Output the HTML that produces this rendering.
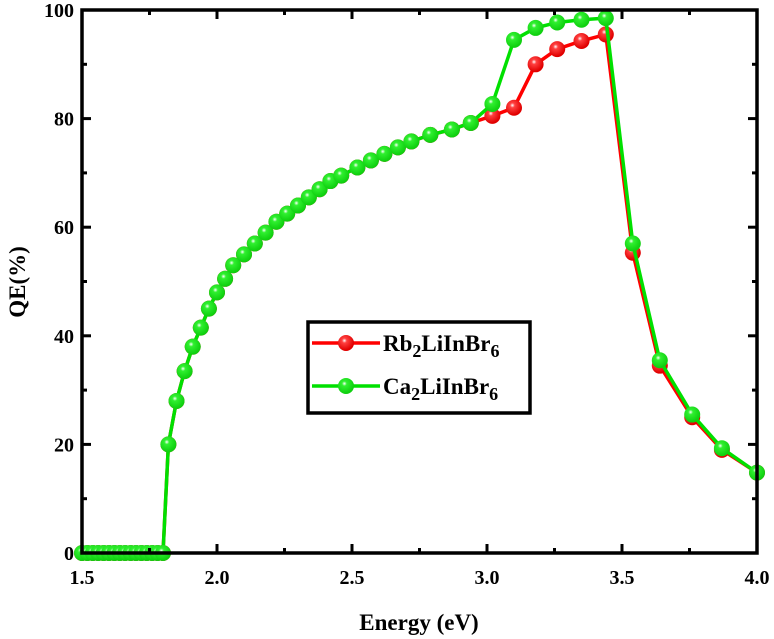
<!DOCTYPE html>
<html><head><meta charset="utf-8"><style>
body{margin:0;background:#fff;}
svg{display:block;font-family:"Liberation Serif",serif;font-weight:bold;}
</style></head><body>
<svg id="chart" width="774" height="639" viewBox="0 0 774 639">
<defs>
<radialGradient id="gR" cx="0.4" cy="0.35" r="0.6"><stop offset="0" stop-color="#fff"/><stop offset="0.25" stop-color="#ff4040"/><stop offset="1" stop-color="#e00000"/></radialGradient>
<radialGradient id="gG" cx="0.4" cy="0.35" r="0.6"><stop offset="0" stop-color="#fff"/><stop offset="0.25" stop-color="#30f030"/><stop offset="1" stop-color="#10d010"/></radialGradient>
</defs>
<g id="plot"></g>
</svg>
<script>
const zeroX=[1.5,1.52,1.54,1.56,1.58,1.6,1.62,1.64,1.66,1.68,1.7,1.72,1.74,1.76,1.78,1.8];
const riseX=[1.82,1.85,1.88,1.91,1.94,1.97,2.0,2.03,2.06,2.1,2.14,2.18,2.22,2.26,2.3,2.34,2.38,2.42,2.46,2.52,2.57,2.62,2.67,2.72,2.79,2.87,2.94];
const riseY=[20,28,33.5,38,41.5,45,48,50.5,53,55,57,59,61,62.5,64,65.5,67,68.5,69.5,71,72.3,73.5,74.7,75.8,77,78,79.2];
const tailX=[3.02,3.10,3.18,3.26,3.35,3.44,3.54,3.64,3.76,3.87,4.0];
const rbTail=[80.5,82,90,92.8,94.3,95.5,55.3,34.5,25,19,14.8];
const caTail=[82.7,94.5,96.7,97.7,98.2,98.5,57,35.5,25.5,19.3,14.8];
const xTicks=["1.5","2.0","2.5","3.0","3.5","4.0"];
const yTicks=["0","20","40","60","80","100"];
const NS="http://www.w3.org/2000/svg";
const g=document.getElementById('plot');
const X0=82,X1=757,Y0=553,Y1=10;
const sx=v=>X0+(v-1.5)/(4.0-1.5)*(X1-X0);
const sy=v=>Y0-v/100*(Y0-Y1);
function mk(t,a,p){const e=document.createElementNS(NS,t);for(const k in a)e.setAttribute(k,a[k]);(p||g).appendChild(e);return e;}
const xs=zeroX.concat(riseX,tailX);
const rbY=zeroX.map(()=>0).concat(riseY,rbTail);
const caY=zeroX.map(()=>0).concat(riseY,caTail);
function series(ys,col,grad,name){
  const pl=mk('polyline',{points:xs.map((x,i)=>sx(x)+','+sy(ys[i])).join(' '),fill:'none',stroke:col,'stroke-width':3.5});
  
  
  xs.forEach((x,i)=>{const c=mk('circle',{cx:sx(x),cy:sy(ys[i]),r:8,fill:'url(#'+grad+')'});
    
    });
}
series(rbY,'#ff0000','gR','rb2liinbr6');
series(caY,'#00e000','gG','ca2liinbr6');
const fr=mk('rect',{x:X0,y:Y1,width:X1-X0,height:Y0-Y1,fill:'none',stroke:'#000','stroke-width':3.5});


xTicks.forEach((t,i)=>{const v=parseFloat(t),x=sx(v);
  mk('line',{x1:x,y1:Y0,x2:x,y2:Y0-9,stroke:'#000','stroke-width':3});
  mk('line',{x1:x,y1:Y1,x2:x,y2:Y1+9,stroke:'#000','stroke-width':3});
  if(i<xTicks.length-1){const m=sx(v+0.25);
    mk('line',{x1:m,y1:Y0,x2:m,y2:Y0-5,stroke:'#000','stroke-width':3});
    mk('line',{x1:m,y1:Y1,x2:m,y2:Y1+5,stroke:'#000','stroke-width':3});}
  const tx=mk('text',{x:x,y:Y0+31,'text-anchor':'middle','font-size':20});tx.textContent=t;
  
  });
yTicks.forEach((t,i)=>{const v=parseFloat(t),y=sy(v);
  mk('line',{x1:X0,y1:y,x2:X0+9,y2:y,stroke:'#000','stroke-width':3});
  mk('line',{x1:X1,y1:y,x2:X1-9,y2:y,stroke:'#000','stroke-width':3});
  if(i<yTicks.length-1){const m=sy(v+10);
    mk('line',{x1:X0,y1:m,x2:X0+5,y2:m,stroke:'#000','stroke-width':3});
    mk('line',{x1:X1,y1:m,x2:X1-5,y2:m,stroke:'#000','stroke-width':3});}
  const tx=mk('text',{x:X0-8,y:y+7,'text-anchor':'end','font-size':20});tx.textContent=t;
  
  });
</script>
<svg style="position:absolute;left:0;top:0" width="774" height="639" font-family="Liberation Serif, serif" font-weight="bold">
<text x="419" y="630" text-anchor="middle" font-size="23">Energy (eV)</text>
<text transform="translate(25,282) rotate(-90)" text-anchor="middle" font-size="23">QE(%)</text>
<g>
<rect x="308" y="322" width="222" height="91" fill="#fff" stroke="#000" stroke-width="3.5"/>
<g>
<line x1="312" y1="343" x2="380" y2="343" stroke="#ff0000" stroke-width="3.5"/>
<circle cx="346" cy="343" r="8" fill="url(#gR)"/>
<text x="383" y="351" font-size="23">Rb<tspan font-size="18" dy="6">2</tspan><tspan dy="-6">LiInBr</tspan><tspan font-size="18" dy="6">6</tspan></text>
</g>
<g>
<line x1="312" y1="386" x2="380" y2="386" stroke="#00e000" stroke-width="3.5"/>
<circle cx="346" cy="386" r="8" fill="url(#gG)"/>
<text x="383" y="394" font-size="23">Ca<tspan font-size="18" dy="6">2</tspan><tspan dy="-6">LiInBr</tspan><tspan font-size="18" dy="6">6</tspan></text>
</g>
</g>
</svg>
</body></html>
